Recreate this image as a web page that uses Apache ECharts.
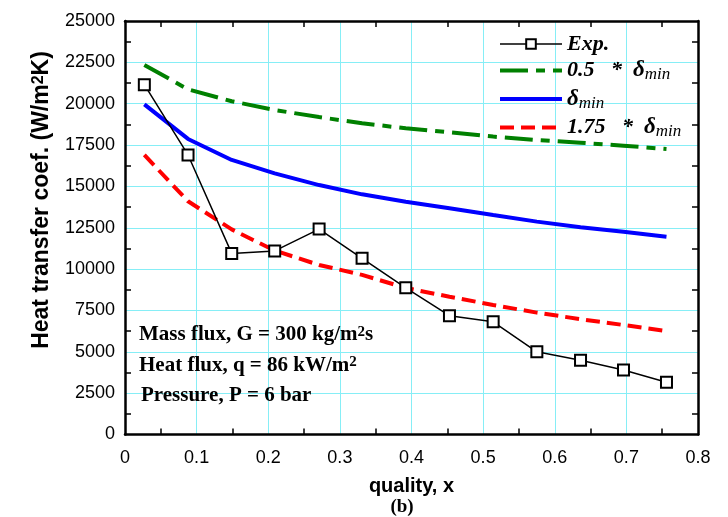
<!DOCTYPE html>
<html><head><meta charset="utf-8">
<script src="https://cdn.jsdelivr.net/npm/echarts@6/dist/echarts.min.js"></script>
<style>html,body{margin:0;padding:0;background:#fff}#c{width:728px;height:517px}</style>
</head><body><div id="c"></div>
<script>
const quality = [0.027, 0.088, 0.149, 0.209, 0.271, 0.331, 0.392, 0.453, 0.514, 0.575, 0.636, 0.696, 0.756];
const expHTC = [21150, 16900, 10950, 11100, 12420, 10650, 8870, 7180, 6810, 5000, 4490, 3900, 3160];
const halfDelta = [22340, 20870, 20150, 19620, 19190, 18820, 18510, 18270, 18010, 17800, 17640, 17460, 17260];
const delta = [19960, 17870, 16600, 15790, 15080, 14520, 14075, 13680, 13270, 12870, 12530, 12260, 11960];
const x175Delta = [16900, 14100, 12400, 11120, 10250, 9650, 8860, 8330, 7830, 7370, 6970, 6620, 6250];
const seriesNames = ['Exp.', '0.5 * δmin', 'δmin', '1.75 * δmin'];
const xTickLabels = ['0', '0.1', '0.2', '0.3', '0.4', '0.5', '0.6', '0.7', '0.8'];
const yTickLabels = ['0', '2500', '5000', '7500', '10000', '12500', '15000', '17500', '20000', '22500', '25000'];
const annotations = ['Mass flux, G = 300 kg/m{sup|2}s', 'Heat flux, q = 86 kW/m{sup|2}', 'Pressure, P = 6 bar'];

const pairs = ys => quality.map((q, i) => [q, ys[i]]);
const legendText = {
  'Exp.': '{b|Exp.}',
  '0.5 * δmin': '{b|0.5   *  }{d|δ}{s|min}',
  'δmin': '{d|δ}{s|min}',
  '1.75 * δmin': '{b|1.75   *  }{d|δ}{s|min}'
};
const serif = 'Liberation Serif';
const sans = 'Liberation Sans';
const gridCyan = '#86eef6';

const chart = echarts.init(document.getElementById('c'));
const baseX = {
  type: 'value', min: 0, max: 0.8, interval: 0.1,
  axisLine: {show: true, onZero: false, lineStyle: {color: '#000', width: 2.5}},
  axisTick: {show: false, inside: true},
  minorTick: {show: true, splitNumber: 2, length: 6, lineStyle: {color: '#000', width: 1.5}},
  minorSplitLine: {show: false}
};
const baseY = {
  type: 'value', min: 0, max: 25000, interval: 2500,
  axisLine: {show: true, onZero: false, lineStyle: {color: '#000', width: 2.5}},
  axisTick: {show: false, inside: true},
  minorTick: {show: true, splitNumber: 2, length: 6, lineStyle: {color: '#000', width: 1.5}},
  minorSplitLine: {show: false}
};
chart.setOption({
  animation: false,
  backgroundColor: '#fff',
  grid: {left: 125, right: 30, top: 21, bottom: 82.5, containLabel: false, outerBoundsMode: 'none'},
  xAxis: [
    Object.assign({}, baseX, {
      position: 'bottom',
      splitLine: {show: true, lineStyle: {color: gridCyan, width: 1}},
      axisLabel: {show: true, margin: 15, color: '#000', fontFamily: sans, fontSize: 18,
        formatter: v => xTickLabels[Math.round(v * 10)]},
      name: 'quality, x', nameLocation: 'middle', nameGap: 42,
      nameTextStyle: {color: '#000', fontFamily: sans, fontWeight: 'bold', fontSize: 20}
    }),
    Object.assign({}, baseX, {position: 'top', splitLine: {show: false}, axisLabel: {show: false}})
  ],
  yAxis: [
    Object.assign({}, baseY, {
      position: 'left',
      splitLine: {show: true, lineStyle: {color: gridCyan, width: 1}},
      axisLabel: {show: true, margin: 10, color: '#000', fontFamily: sans, fontSize: 18,
        formatter: v => yTickLabels[Math.round(v / 2500)]}
    }),
    Object.assign({}, baseY, {position: 'right', splitLine: {show: false}, axisLabel: {show: false}})
  ],
  legend: {
    data: seriesNames.map((n, i) => i === 0 ? {name: n} : {name: n, itemStyle: {opacity: 0}}),
    orient: 'vertical', left: 493, top: 28,
    itemWidth: 62, itemHeight: 12, itemGap: 4,
    lineStyle: {width: 'inherit'},
    formatter: n => legendText[n],
    textStyle: {
      color: '#000',
      rich: {
        b: {fontFamily: serif, fontWeight: 'bold', fontStyle: 'italic', fontSize: 22, lineHeight: 26, color: '#000'},
        d: {fontFamily: serif, fontWeight: 'bold', fontStyle: 'italic', fontSize: 23, lineHeight: 26, color: '#000'},
        s: {fontFamily: serif, fontStyle: 'italic', fontSize: 17, lineHeight: 16, verticalAlign: 'bottom', color: '#000'}
      }
    }
  },
  graphic: [
    {type: 'text', x: 42, y: 200, rotation: Math.PI / 2, z: 10,
      style: {text: 'Heat transfer coef. (W/m{sup|2}K)', align: 'center', verticalAlign: 'middle',
        font: 'bold 23px "Liberation Sans"', fill: '#000',
        rich: {sup: {fontFamily: sans, fontWeight: 'bold', fontSize: 16, verticalAlign: 'top', fill: '#000'}}}},
    {type: 'text', x: 402, y: 507, z: 10,
      style: {text: '(b)', align: 'center', verticalAlign: 'middle', font: 'bold 19px "Liberation Serif"', fill: '#000'}}
  ].concat(annotations.map((t, i) => ({
    type: 'text', x: 139 + (i === 2 ? 2 : 0), y: 335 + i * 30.5, z: 10,
    style: {text: t, align: 'left', verticalAlign: 'middle', font: 'bold 21px "Liberation Serif"', fill: '#000',
      rich: {sup: {fontFamily: serif, fontWeight: 'bold', fontSize: 15, verticalAlign: 'top', fill: '#000'}}}
  }))),
  series: [
    {name: seriesNames[1], type: 'line', data: pairs(halfDelta), symbol: 'none', z: 3,
      lineStyle: {color: '#008000', width: 4, type: [28, 8, 9, 8]}, itemStyle: {color: '#008000'}},
    {name: seriesNames[2], type: 'line', data: pairs(delta), symbol: 'none', z: 3,
      lineStyle: {color: '#0000ff', width: 4, type: 'solid'}, itemStyle: {color: '#0000ff'}},
    {name: seriesNames[3], type: 'line', data: pairs(x175Delta), symbol: 'none', z: 3,
      lineStyle: {color: '#ff0000', width: 4, type: [14, 7]}, itemStyle: {color: '#ff0000'}},
    {name: seriesNames[0], type: 'line', data: pairs(expHTC), symbol: 'rect', symbolSize: 11, z: 5,
      lineStyle: {color: '#000', width: 1.5},
      itemStyle: {color: '#fff', borderColor: '#000', borderWidth: 2}}
  ]
});
</script></body></html>
